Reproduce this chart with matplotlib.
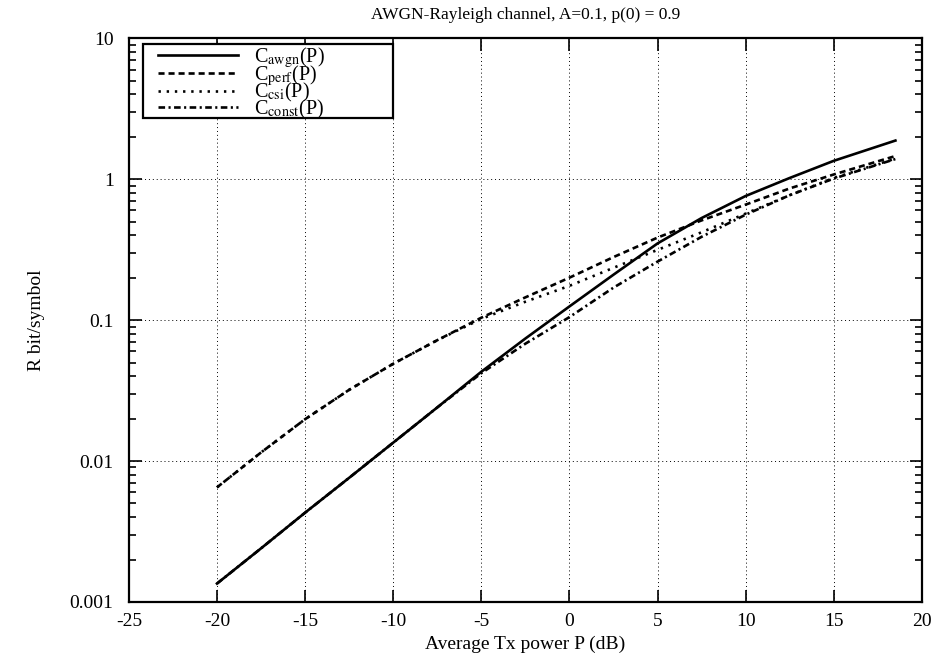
import matplotlib
matplotlib.use('Agg')
import matplotlib.pyplot as plt
from matplotlib.patches import Rectangle
from matplotlib.ticker import FixedLocator, FixedFormatter, LogLocator, NullFormatter

plt.rcParams['font.family'] = 'Liberation Serif'
plt.rcParams['mathtext.fontset'] = 'stix'
plt.rcParams['axes.unicode_minus'] = False

# average Tx power (dB)
p_db = [-20, -17.5, -15, -12.5, -10, -7.5, -5, -2.5, 0, 2.5, 5, 7.5, 10, 12.5, 15, 18.5]

# rates (bit/symbol)
c_awgn = [0.00135, 0.0024, 0.0043, 0.0076, 0.0135, 0.024, 0.043, 0.074, 0.125,
          0.21, 0.35, 0.53, 0.76, 1.02, 1.35, 1.88]
c_perf = [0.0065, 0.0115, 0.0198, 0.032, 0.049, 0.072, 0.104, 0.145, 0.20,
          0.28, 0.385, 0.51, 0.66, 0.86, 1.08, 1.46]
c_csi = [0.0065, 0.0115, 0.0198, 0.032, 0.049, 0.072, 0.102, 0.135, 0.175,
         0.235, 0.315, 0.42, 0.57, 0.77, 1.02, 1.40]
c_const = [0.00135, 0.0024, 0.0043, 0.0076, 0.0135, 0.024, 0.042, 0.068, 0.105,
           0.17, 0.26, 0.39, 0.56, 0.77, 1.01, 1.39]

x_ticks = [-25, -20, -15, -10, -5, 0, 5, 10, 15, 20]
y_ticks = [0.001, 0.01, 0.1, 1, 10]
y_labels = ['0.001', '0.01', '0.1', '1', '10']

fig = plt.figure(figsize=(9.34, 6.6), dpi=100)
ax = fig.add_axes([0.138, 0.088, 0.849, 0.854])

lw = 1.9
ax.plot(p_db, c_awgn, color='black', lw=lw, ls='-', label=r'C$_{\mathrm{awgn}}$(P)')
ax.plot(p_db, c_perf, color='black', lw=lw, ls=(0, (2.3, 1.5)), label=r'C$_{\mathrm{perf}}$(P)')
ax.plot(p_db, c_csi, color='black', lw=lw, ls=(0, (0.9, 2.2)), label=r'C$_{\mathrm{csi}}$(P)')
ax.plot(p_db, c_const, color='black', lw=lw, ls=(0, (2.5, 1.3, 0.8, 1.3)), label=r'C$_{\mathrm{const}}$(P)')

ax.set_yscale('log')
ax.set_xlim(-25, 20)
ax.set_ylim(0.001, 10)
ax.xaxis.set_major_locator(FixedLocator(x_ticks))
ax.yaxis.set_major_locator(FixedLocator(y_ticks))
ax.yaxis.set_major_formatter(FixedFormatter(y_labels))
ax.yaxis.set_minor_locator(LogLocator(base=10, subs=range(2, 10)))
ax.yaxis.set_minor_formatter(NullFormatter())

ax.tick_params(which='both', direction='in', top=True, right=True, labelsize=14)
ax.tick_params(which='major', length=9, width=1.2)
ax.tick_params(which='minor', length=5, width=1.2)
ax.tick_params(axis='y', pad=11)
ax.tick_params(axis='x', pad=8)
for s in ax.spines.values():
    s.set_linewidth(1.6)

ax.grid(True, which='major', color='black', lw=0.7, ls=(0, (1, 3)))

ax.set_title('AWGN-Rayleigh channel, A=0.1, p(0) = 0.9', fontsize=12.5, pad=14)
ax.set_xlabel('Average Tx power P (dB)', fontsize=14, labelpad=4)
ax.set_ylabel('R bit/symbol', fontsize=14, labelpad=18)

# key box (drawn separately so the inner margins can differ)
ax.add_patch(Rectangle((0.0177, 0.859), 0.315, 0.130, transform=ax.transAxes,
                       fill=True, facecolor='white', edgecolor='black', lw=1.6, zorder=4))
leg = ax.legend(loc='upper left', bbox_to_anchor=(0.034, 0.992), frameon=False,
                fontsize=14.5, handlelength=4.0, borderaxespad=0.0,
                labelspacing=-0.33, borderpad=0.1, handletextpad=0.75)
leg.set_zorder(5)

fig.savefig('out.png', dpi=100)
